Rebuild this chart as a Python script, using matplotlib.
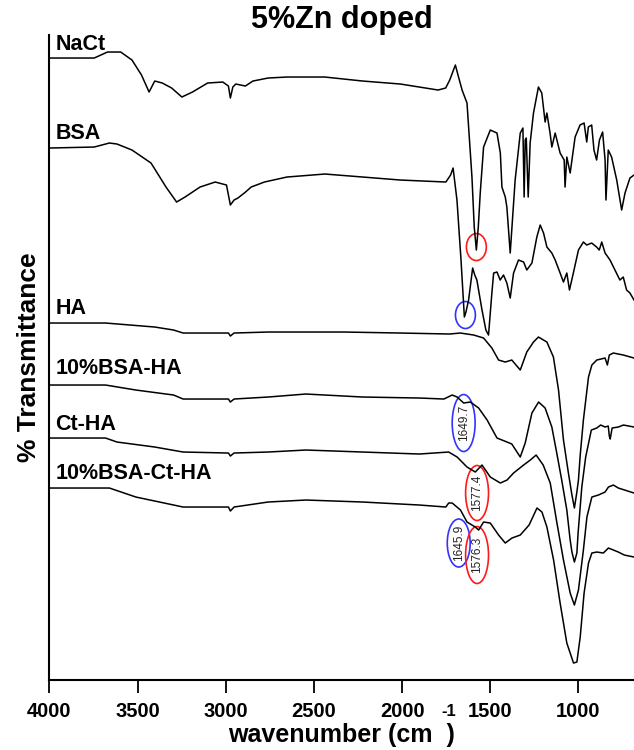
import matplotlib
matplotlib.use('Agg')
import matplotlib.pyplot as plt
from matplotlib.patches import Ellipse

plt.rcParams['font.family'] = ['Liberation Sans', 'DejaVu Sans']

# FTIR spectra, stacked (arbitrary transmittance units)
nact_wn = [4000, 3746, 3671, 3596, 3532, 3478, 3435, 3403, 3360, 3307, 3249, 3189, 3103, 3017, 2985,
           2974, 2960, 2943, 2889, 2846, 2760, 2653, 2439, 2224, 2010, 1796, 1753, 1730, 1698, 1680,
           1660, 1632, 1604, 1591, 1579, 1568, 1557, 1538, 1500, 1462, 1443, 1434, 1415, 1406, 1387,
           1359, 1330, 1315, 1308, 1302, 1296, 1285, 1274, 1255, 1227, 1208, 1189, 1179, 1161, 1151,
           1132, 1104, 1081, 1076, 1066, 1047, 1019, 991, 968, 953, 944, 925, 912, 897, 881,
           863, 849, 844, 831, 812, 783, 755, 736, 708, 685]
nact_t = [622, 622, 628, 628, 620, 605, 588, 599, 597, 592, 583, 588, 597, 598, 594,
          582, 593, 596, 594, 599, 602, 603, 603, 599, 596, 590, 592, 600, 615, 603,
          590, 577, 503, 453, 430, 453, 487, 533, 550, 547, 527, 493, 483, 473, 427,
          500, 547, 552, 483, 540, 542, 483, 537, 567, 593, 587, 558, 567, 547, 533,
          547, 527, 520, 493, 523, 507, 543, 555, 557, 538, 553, 555, 530, 520, 540,
          548, 520, 480, 530, 523, 500, 470, 487, 502, 505]

bsa_wn = [4000, 3746, 3660, 3617, 3532, 3424, 3339, 3279, 3231, 3146, 3060, 2996, 2974, 2953, 2931,
          2888, 2856, 2781, 2653, 2438, 2224, 2010, 1752, 1725, 1711, 1689, 1666, 1647, 1638, 1623,
          1600, 1588, 1576, 1547, 1525, 1510, 1491, 1481, 1462, 1444, 1425, 1406, 1387, 1368, 1340,
          1311, 1293, 1264, 1236, 1217, 1198, 1179, 1151, 1132, 1104, 1085, 1066, 1051, 1029, 1000,
          972, 953, 925, 897, 882, 868, 849, 821, 793, 765, 746, 727, 708, 685]
bsa_t = [532, 533, 537, 536, 530, 517, 493, 478, 483, 493, 498, 495, 475, 480, 482,
         488, 493, 498, 503, 506, 503, 500, 498, 505, 512, 480, 420, 363, 368, 380,
         412, 405, 400, 370, 350, 345, 387, 407, 408, 400, 405, 397, 382, 407, 420,
         418, 410, 417, 443, 455, 447, 433, 427, 420, 407, 398, 407, 390, 407, 430,
         438, 435, 437, 433, 430, 438, 427, 420, 410, 400, 403, 390, 387, 380]

ha_wn = [4000, 3682, 3403, 3296, 3242, 2985, 2974, 2953, 2760, 2331, 2010, 1731, 1670, 1594, 1538,
         1491, 1453, 1415, 1378, 1330, 1293, 1255, 1227, 1179, 1142, 1113, 1085, 1057, 1037, 1023,
         1009, 1000, 990, 972, 943, 924, 896, 849, 836, 825, 802, 746, 685]
ha_t = [357, 357, 353, 350, 347, 347, 344, 347, 348, 348, 347, 346, 347, 345, 342,
        332, 320, 318, 320, 310, 328, 338, 343, 338, 323, 290, 240, 207, 185, 172,
        188, 200, 225, 260, 303, 315, 320, 322, 315, 325, 327, 325, 322]

bsa_ha_wn = [4000, 3682, 3510, 3296, 3242, 2985, 2974, 2953, 2760, 2546, 2224, 1902, 1763, 1716, 1688,
             1651, 1613, 1566, 1518, 1462, 1405, 1378, 1330, 1302, 1264, 1226, 1189, 1151, 1123, 1095,
             1066, 1047, 1037, 1023, 1009, 1002, 981, 959, 927, 896, 874, 849, 831, 825, 820,
             809, 774, 745, 685]
bsa_ha_t = [295, 295, 290, 285, 281, 281, 278, 281, 283, 286, 283, 282, 281, 285, 283,
            277, 278, 272, 260, 242, 238, 236, 223, 237, 267, 278, 272, 253, 227, 200,
            170, 140, 128, 118, 127, 147, 193, 223, 250, 252, 255, 253, 254, 244, 241,
            252, 253, 255, 253]

ct_ha_wn = [4000, 3682, 3617, 3403, 3242, 2985, 2974, 2953, 2760, 2546, 2224, 1902, 1736, 1688, 1632,
            1585, 1547, 1500, 1443, 1405, 1368, 1311, 1273, 1240, 1200, 1160, 1122, 1085, 1047, 1023,
            1000, 972, 952, 924, 887, 849, 830, 802, 774, 685]
ct_ha_t = [242, 242, 238, 233, 228, 227, 224, 227, 228, 230, 228, 226, 228, 223, 213,
           208, 215, 203, 197, 200, 207, 215, 220, 225, 215, 197, 157, 120, 87, 75,
           90, 130, 163, 183, 185, 188, 193, 195, 192, 187]

bsa_ct_ha_wn = [4000, 3660, 3510, 3242, 2985, 2974, 2953, 2760, 2546, 2224, 1902, 1752, 1736, 1716, 1669,
                1632, 1585, 1566, 1538, 1500, 1453, 1415, 1377, 1330, 1280, 1235, 1207, 1179, 1141, 1104,
                1066, 1028, 1009, 990, 968, 943, 924, 896, 859, 830, 802, 774, 740, 685]
bsa_ct_ha_t = [192, 192, 183, 173, 173, 169, 173, 178, 180, 178, 175, 173, 177, 177, 170,
               158, 153, 150, 158, 157, 145, 137, 142, 145, 155, 172, 168, 153, 120, 77,
               37, 17, 18, 43, 87, 117, 127, 128, 127, 132, 130, 128, 125, 123]

names = ['NaCt', 'BSA', 'HA', '10%BSA-HA', 'Ct-HA', '10%BSA-Ct-HA']
name_y = [636, 547, 372, 312, 256, 207]

# circled bands: centre (wavenumber, value), size, text, colour
mark_wn = [1579, 1641, 1651, 1575, 1679, 1575]
mark_t = [433, 365, 257, 187, 137, 125]
mark_w = [113, 113, 130, 130, 130, 130]
mark_h = [27, 27, 57, 55, 48, 57]
mark_txt = ['', '', '1649.7', '1577.4', '1645.9', '1576.3']
mark_col = ['#ff1a1a', '#3333ff', '#3333ff', '#ff1a1a', '#3333ff', '#ff1a1a']

fig = plt.figure(figsize=(6.34, 7.5), dpi=100)
ax = fig.add_axes([0.078, 0.0933, 0.922, 0.86])

spectra = [(nact_wn, nact_t), (bsa_wn, bsa_t), (ha_wn, ha_t),
           (bsa_ha_wn, bsa_ha_t), (ct_ha_wn, ct_ha_t), (bsa_ct_ha_wn, bsa_ct_ha_t)]
for wn, t in spectra:
    ax.plot(wn, t, color='black', lw=1.1)

for name, y in zip(names, name_y):
    ax.text(3965, y, name, fontsize=15.5, fontweight='bold', ha='left', va='center')

for i in range(len(mark_wn)):
    ax.add_patch(Ellipse((mark_wn[i], mark_t[i]), mark_w[i], mark_h[i],
                         fill=False, edgecolor=mark_col[i], lw=1.2))
    if mark_txt[i]:
        ax.text(mark_wn[i], mark_t[i], mark_txt[i], rotation=90, fontsize=8.5,
                ha='center', va='center', color='#222222')

ax.set_xlim(4000, 685)
ax.set_ylim(0, 645)
ax.set_xticks([4000, 3500, 3000, 2500, 2000, 1500, 1000])
ax.set_yticks([])
ax.tick_params(axis='x', direction='out', length=9, width=1.3, pad=7, labelsize=14.5)
for lab in ax.get_xticklabels():
    lab.set_fontweight('bold')
ax.spines['top'].set_visible(False)
ax.spines['right'].set_visible(False)
ax.spines['left'].set_linewidth(1.5)
ax.spines['bottom'].set_linewidth(1.5)

ax.set_title('5%Zn doped', fontsize=22, fontweight='bold', pad=4)
ax.set_ylabel('% Transmittance', fontsize=19, fontweight='bold', labelpad=6)
ax.set_xlabel('wavenumber (cm  )', fontsize=18, fontweight='bold', labelpad=1)
fig.text(449 / 634, 1 - 712 / 750, '-1', fontsize=12, fontweight='bold', ha='center', va='center')

fig.savefig('out.png', dpi=100)
